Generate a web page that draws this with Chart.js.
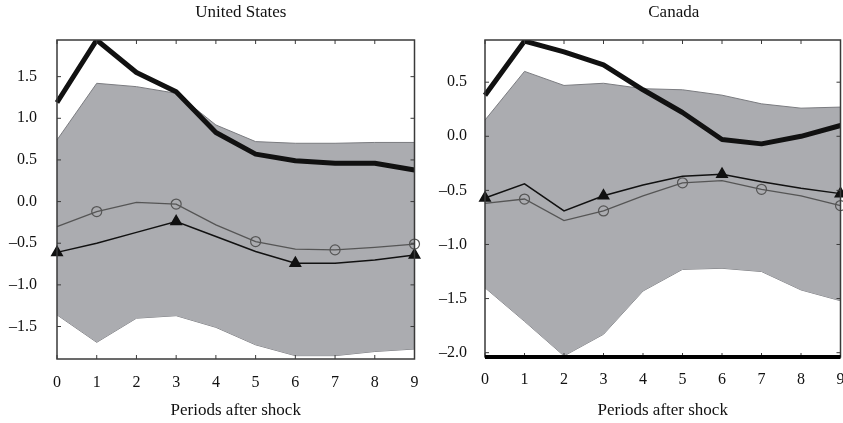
<!DOCTYPE html>
<html>
<head>
<meta charset="utf-8">
<script src="https://cdn.jsdelivr.net/npm/chart.js@4.4.0/dist/chart.umd.min.js"></script>
<style>
    body { margin: 0; background: #fff; overflow: hidden; }
    .panel { position: absolute; top: 0; height: 423px; }
</style>
</head>
<body>
<div class="panel" style="left:0;width:422px"><canvas id="usChart" width="422" height="423"></canvas></div>
<div class="panel" style="left:421px;width:427px"><canvas id="caChart" width="427" height="423"></canvas></div>
<script>
// Periods after shock (x axis)
const periods = [0, 1, 2, 3, 4, 5, 6, 7, 8, 9];

// United States panel
const usThick = [1.19, 1.94, 1.55, 1.32, 0.83, 0.57, 0.49, 0.46, 0.46, 0.38];
const usUpper = [0.74, 1.42, 1.38, 1.30, 0.92, 0.72, 0.70, 0.70, 0.71, 0.71];
const usLower = [-1.36, -1.69, -1.40, -1.37, -1.51, -1.72, -1.85, -1.85, -1.80, -1.77];
const usCircle = [-0.30, -0.12, -0.01, -0.03, -0.28, -0.48, -0.57, -0.58, -0.55, -0.51];
const usTriangle = [-0.61, -0.50, -0.37, -0.24, -0.42, -0.60, -0.74, -0.74, -0.70, -0.64];
const usTicks = [-1.5, -1.0, -0.5, 0.0, 0.5, 1.0, 1.5];

// Canada panel
const caThick = [0.38, 0.88, 0.78, 0.66, 0.43, 0.22, -0.03, -0.07, 0.00, 0.10];
const caUpper = [0.15, 0.60, 0.47, 0.49, 0.44, 0.43, 0.38, 0.30, 0.26, 0.27];
const caLower = [-1.40, -1.71, -2.03, -1.83, -1.43, -1.23, -1.22, -1.25, -1.42, -1.52];
const caCircle = [-0.62, -0.58, -0.78, -0.69, -0.55, -0.43, -0.41, -0.49, -0.55, -0.64];
const caTriangle = [-0.57, -0.44, -0.69, -0.55, -0.45, -0.37, -0.35, -0.42, -0.48, -0.53];
const caTicks = [-2.0, -1.5, -1.0, -0.5, 0.0, 0.5];

// Which periods carry a marker
const circleMarks = [1, 3, 5, 7, 9];
const triangleMarks = [0, 3, 6, 9];

const serif = "'Liberation Serif', 'DejaVu Serif', serif";

// Box around the plot with small inward ticks; title centred over the plot
const framePlugin = {
    id: 'frame',
    afterLayout(chart, args, opts) {
        const a = chart.chartArea;
        if (chart.titleBlock) {
            chart.titleBlock.left = a.left + opts.titleShift;
            chart.titleBlock.right = a.right + opts.titleShift;
        }
    },
    afterDatasetsDraw(chart, args, opts) {
        const { ctx, chartArea: a, scales: { x, y } } = chart;
        ctx.save();
        ctx.strokeStyle = '#3a3a3a';
        ctx.lineWidth = 1.5;
        ctx.strokeRect(a.left, a.top, a.right - a.left, a.bottom - a.top);
        ctx.lineWidth = 1;
        ctx.beginPath();
        x.ticks.forEach((t, i) => {
            const px = x.getPixelForTick(i);
            ctx.moveTo(px, a.bottom); ctx.lineTo(px, a.bottom - 4);
            ctx.moveTo(px, a.top); ctx.lineTo(px, a.top + 4);
        });
        y.ticks.forEach(t => {
            const py = y.getPixelForValue(t.value);
            ctx.moveTo(a.left, py); ctx.lineTo(a.left + 4, py);
            ctx.moveTo(a.right, py); ctx.lineTo(a.right - 4, py);
        });
        ctx.stroke();
        if (opts.heavyBase) {
            ctx.strokeStyle = '#000';
            ctx.lineWidth = 4;
            ctx.beginPath();
            ctx.moveTo(a.left, a.bottom);
            ctx.lineTo(a.right, a.bottom);
            ctx.stroke();
        }
        ctx.restore();
    }
};

function markerRadius(marks, r) {
    return periods.map(p => marks.includes(p) ? r : 0);
}

function fmt(v) {
    return v.toFixed(1).replace('-', '\u2013');
}

function buildChart(id, title, d, yMin, yMax, ticks, lay) {
    const ctx = document.getElementById(id).getContext('2d');
    return new Chart(ctx, {
        type: 'line',
        data: {
            labels: periods,
            datasets: [
                {
                    data: d.upper,
                    borderColor: '#7b7c80',
                    borderWidth: 1,
                    backgroundColor: '#abacb0',
                    fill: '+1',
                    pointRadius: 0,
                    tension: 0,
                    order: 10
                },
                {
                    data: d.lower,
                    borderColor: '#7b7c80',
                    borderWidth: 1,
                    fill: false,
                    pointRadius: 0,
                    tension: 0,
                    order: 10
                },
                {
                    data: d.thick,
                    borderColor: '#111',
                    borderWidth: 5,
                    fill: false,
                    pointRadius: 0,
                    tension: 0,
                    borderJoinStyle: 'round',
                    order: 1
                },
                {
                    data: d.circle,
                    borderColor: '#555',
                    borderWidth: 1.3,
                    fill: false,
                    pointStyle: 'circle',
                    pointRadius: markerRadius(circleMarks, 5),
                    pointBackgroundColor: 'rgba(0,0,0,0)',
                    pointBorderColor: '#555',
                    pointBorderWidth: 1.2,
                    tension: 0,
                    clip: false,
                    order: 2
                },
                {
                    data: d.triangle,
                    borderColor: '#111',
                    borderWidth: 1.5,
                    fill: false,
                    pointStyle: 'triangle',
                    pointRadius: markerRadius(triangleMarks, 6),
                    pointBackgroundColor: '#111',
                    pointBorderColor: '#111',
                    tension: 0,
                    clip: false,
                    order: 2
                }
            ]
        },
        options: {
            responsive: false,
            animation: false,
            layout: { padding: 0 },
            plugins: {
                legend: { display: false },
                tooltip: { enabled: false },
                title: {
                    display: true,
                    text: title,
                    color: '#111',
                    font: { family: serif, size: 17, weight: 'normal' },
                    padding: { top: 2, bottom: 17.6 }
                },
                frame: { heavyBase: lay.heavyBase, titleShift: lay.titleShift }
            },
            scales: {
                x: {
                    grid: { display: false },
                    border: { display: false },
                    ticks: {
                        color: '#111',
                        padding: lay.tickPad,
                        font: { family: serif, size: 16 }
                    },
                    title: {
                        display: true,
                        text: 'Periods after shock',
                        color: '#111',
                        font: { family: serif, size: 17 },
                        padding: { top: 0, bottom: 2 }
                    },
                    afterFit: s => {
                        s.height = lay.xHeight;
                        s.paddingLeft = 0;
                        s.paddingRight = 0;
                    }
                },
                y: {
                    min: yMin,
                    max: yMax,
                    grid: { display: false },
                    border: { display: false },
                    afterBuildTicks: s => { s.ticks = ticks.map(v => ({ value: v })); },
                    ticks: {
                        color: '#111',
                        padding: lay.yPad,
                        font: { family: serif, size: 16 },
                        callback: v => fmt(v)
                    },
                    afterFit: s => { s.width = lay.yWidth; }
                }
            }
        },
        plugins: [framePlugin]
    });
}

buildChart('usChart', 'United States',
    { thick: usThick, upper: usUpper, lower: usLower, circle: usCircle, triangle: usTriangle },
    -1.89, 1.94, usTicks,
    { yWidth: 57, xHeight: 64, tickPad: 6, yPad: 12, titleShift: 5, heavyBase: false });

buildChart('caChart', 'Canada',
    { thick: caThick, upper: caUpper, lower: caLower, circle: caCircle, triangle: caTriangle },
    -2.04, 0.89, caTicks,
    { yWidth: 64, xHeight: 66, tickPad: 5, yPad: 10, titleShift: 11, heavyBase: true });
</script>
</body>
</html>
